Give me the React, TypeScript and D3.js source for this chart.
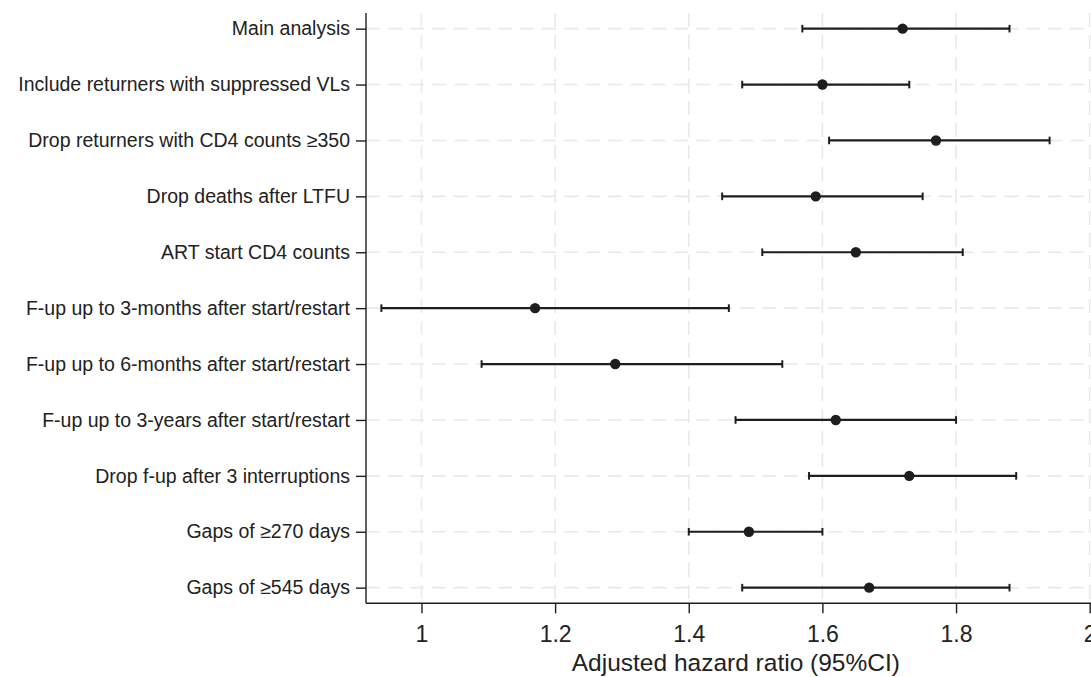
import { useEffect, useRef } from 'react';
import * as d3 from 'd3';

const labels = [
  'Main analysis',
  'Include returners with suppressed VLs',
  'Drop returners with CD4 counts ≥350',
  'Drop deaths after LTFU',
  'ART start CD4 counts',
  'F-up up to 3-months after start/restart',
  'F-up up to 6-months after start/restart',
  'F-up up to 3-years after start/restart',
  'Drop f-up after 3 interruptions',
  'Gaps of ≥270 days',
  'Gaps of ≥545 days',
];
const estimates = [1.72, 1.6, 1.77, 1.59, 1.65, 1.17, 1.29, 1.62, 1.73, 1.49, 1.67];
const lowerCI = [1.57, 1.48, 1.61, 1.45, 1.51, 0.94, 1.09, 1.47, 1.58, 1.4, 1.48];
const upperCI = [1.88, 1.73, 1.94, 1.75, 1.81, 1.46, 1.54, 1.8, 1.89, 1.6, 1.88];
const xTicks = [1, 1.2, 1.4, 1.6, 1.8, 2];

const WIDTH = 1091;
const HEIGHT = 677;
const FONT = '"Liberation Sans", Arial, sans-serif';

const ForestPlot = () => {
  const chartRef = useRef<SVGSVGElement>(null);

  useEffect(() => {
    if (!chartRef.current) return;
    const svg = d3.select(chartRef.current);
    svg.selectAll('*').remove();

    const margin = { top: 13, right: 1.3, bottom: 73.7, left: 366 };
    const plotRight = WIDTH - margin.right;
    const plotBottom = HEIGHT - margin.bottom;

    const x = d3.scaleLinear().domain([0.917, 2.0]).range([margin.left, plotRight]);
    const y = d3.scalePoint<string>().domain(labels).range([margin.top, plotBottom]).padding(0.28);

    const gridColor = '#e9e9e9';
    const ink = '#1e1e1e';

    // vertical grid
    svg.append('g')
      .selectAll('line')
      .data(xTicks)
      .enter()
      .append('line')
      .attr('x1', d => x(d))
      .attr('x2', d => x(d))
      .attr('y1', margin.top)
      .attr('y2', plotBottom)
      .attr('stroke', gridColor)
      .attr('stroke-width', 1.6)
      .attr('stroke-dasharray', '14,8');

    // horizontal grid
    svg.append('g')
      .selectAll('line')
      .data(labels)
      .enter()
      .append('line')
      .attr('x1', margin.left)
      .attr('x2', WIDTH)
      .attr('y1', d => y(d) || 0)
      .attr('y2', d => y(d) || 0)
      .attr('stroke', gridColor)
      .attr('stroke-width', 1.6)
      .attr('stroke-dasharray', '14,8');

    // y axis
    const yAxis = svg.append('g')
      .attr('transform', `translate(${margin.left},0)`)
      .call(d3.axisLeft(y).tickSize(10).tickPadding(6));
    yAxis.select('.domain').attr('d', `M0,${margin.top}V${plotBottom}`).attr('stroke', ink).attr('stroke-width', 1.4);
    yAxis.selectAll('.tick line').attr('stroke', ink).attr('stroke-width', 1.4);
    yAxis.selectAll('.tick text')
      .attr('fill', '#222')
      .style('font-family', FONT)
      .style('font-size', '19.5px');

    // x axis
    const xAxis = svg.append('g')
      .attr('transform', `translate(0,${plotBottom})`)
      .call(d3.axisBottom(x).tickValues(xTicks).tickSize(10).tickPadding(12).tickFormat(d => `${d}`));
    xAxis.select('.domain').attr('d', `M${margin.left},0H${WIDTH}`).attr('stroke', ink).attr('stroke-width', 1.4);
    xAxis.selectAll('.tick line').attr('stroke', ink).attr('stroke-width', 1.4);
    xAxis.selectAll('.tick text')
      .attr('fill', '#222')
      .style('font-family', FONT)
      .style('font-size', '23px');

    // error bars
    const rows = labels.map((label, i) => ({
      label,
      est: estimates[i],
      lo: lowerCI[i],
      hi: upperCI[i],
    }));

    const bars = svg.append('g');
    bars.selectAll('.ci')
      .data(rows)
      .enter()
      .append('line')
      .attr('class', 'ci')
      .attr('x1', d => x(d.lo))
      .attr('x2', d => x(d.hi))
      .attr('y1', d => y(d.label) || 0)
      .attr('y2', d => y(d.label) || 0)
      .attr('stroke', ink)
      .attr('stroke-width', 2.2);

    ['lo', 'hi'].forEach(key => {
      bars.selectAll(`.cap-${key}`)
        .data(rows)
        .enter()
        .append('line')
        .attr('class', `cap-${key}`)
        .attr('x1', d => x(d[key as 'lo' | 'hi']))
        .attr('x2', d => x(d[key as 'lo' | 'hi']))
        .attr('y1', d => (y(d.label) || 0) - 3.8)
        .attr('y2', d => (y(d.label) || 0) + 3.8)
        .attr('stroke', ink)
        .attr('stroke-width', 2);
    });

    bars.selectAll('.dot')
      .data(rows)
      .enter()
      .append('circle')
      .attr('class', 'dot')
      .attr('cx', d => x(d.est))
      .attr('cy', d => y(d.label) || 0)
      .attr('r', 5.2)
      .attr('fill', ink);

    // x axis title
    svg.append('text')
      .attr('x', (margin.left + plotRight) / 2 + 8)
      .attr('y', 671)
      .attr('text-anchor', 'middle')
      .attr('fill', '#222')
      .style('font-family', FONT)
      .style('font-size', '24.5px')
      .text('Adjusted hazard ratio (95%CI)');
  }, []);

  return (
    <svg
      ref={chartRef}
      width={WIDTH}
      height={HEIGHT}
      style={{ position: 'absolute', left: 0, top: 0, background: '#fff' }}
    />
  );
};

export default function App() {
  return <ForestPlot />;
}
